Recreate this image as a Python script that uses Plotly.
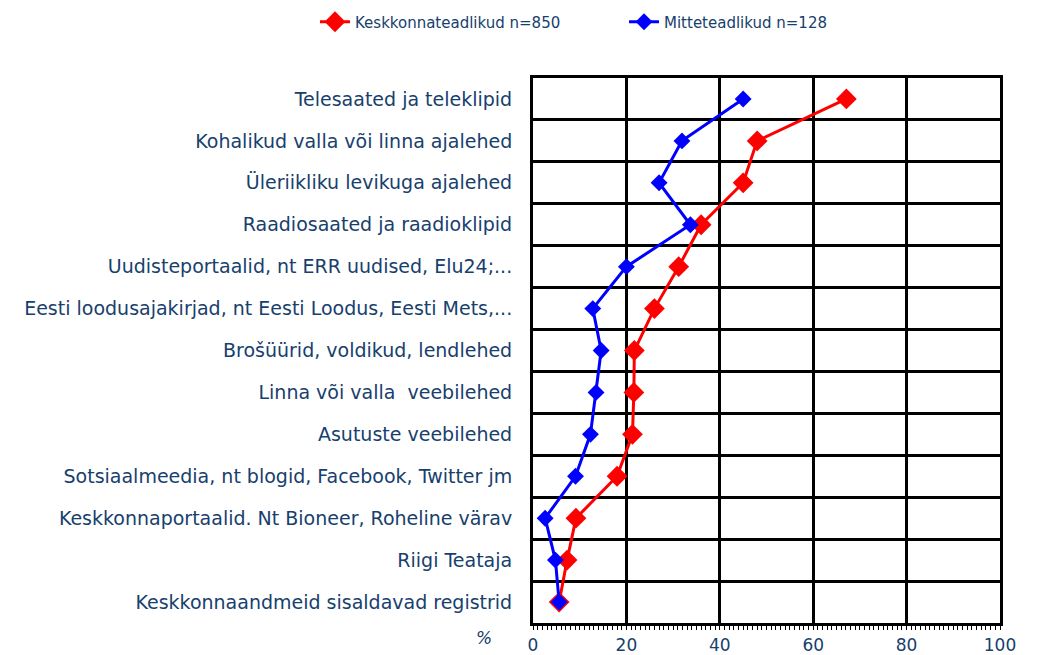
import plotly.graph_objects as go

categories = [
    "Telesaated ja teleklipid",
    "Kohalikud valla või linna ajalehed",
    "Üleriikliku levikuga ajalehed",
    "Raadiosaated ja raadioklipid",
    "Uudisteportaalid, nt ERR uudised, Elu24;...",
    "Eesti loodusajakirjad, nt Eesti Loodus, Eesti Mets,...",
    "Brošüürid, voldikud, lendlehed",
    "Linna või valla  veebilehed",
    "Asutuste veebilehed",
    "Sotsiaalmeedia, nt blogid, Facebook, Twitter jm",
    "Keskkonnaportaalid. Nt Bioneer, Roheline värav",
    "Riigi Teataja",
    "Keskkonnaandmeid sisaldavad registrid",
]
teadlikud = [67.1, 48.0, 45.0, 36.0, 31.2, 26.0, 21.7, 21.6, 21.3, 18.0, 9.2, 7.3, 5.6]
mitteteadlikud = [45.0, 31.9, 27.0, 33.7, 20.0, 12.8, 14.6, 13.5, 12.3, 9.1, 2.6, 4.8, 5.6]
x_ticks = [0, 20, 40, 60, 80, 100]

TXT = "#17406D"
FONT = "DejaVu Sans"

fig = go.Figure()
fig.add_trace(go.Scatter(
    x=teadlikud, y=categories, mode="lines+markers",
    name="Keskkonnateadlikud n=850", legend="legend",
    line=dict(color="#FF0000", width=3),
    marker=dict(symbol="diamond", size=16, color="#FF0000"),
))
fig.add_trace(go.Scatter(
    x=mitteteadlikud, y=categories, mode="lines+markers",
    name="Mitteteadlikud n=128", legend="legend2",
    line=dict(color="#0000FF", width=3),
    marker=dict(symbol="diamond", size=13, color="#0000FF"),
))

leg_common = dict(
    orientation="h", xref="container", yref="container",
    xanchor="left", yanchor="middle",
    font=dict(size=15, color=TXT, family=FONT),
    bgcolor="rgba(0,0,0,0)",
)

fig.update_layout(
    width=1050, height=655,
    margin=dict(l=533, r=50, t=78, b=32, autoexpand=False),
    paper_bgcolor="white", plot_bgcolor="white",
    font=dict(family=FONT, color=TXT, size=16),
    showlegend=True,
    legend=dict(x=0.300, y=1 - 22 / 655, **leg_common),
    legend2=dict(x=0.5943, y=1 - 22 / 655, **leg_common),
    xaxis=dict(
        range=[0, 100], tickvals=x_ticks, ticktext=[str(v) for v in x_ticks],
        showgrid=True, gridcolor="black", gridwidth=2.5,
        showline=True, linecolor="black", linewidth=3, mirror=True,
        ticks="", tickfont=dict(size=17, color=TXT), ticklabelstandoff=5,
        minor=dict(dtick=1, ticks="outside", ticklen=4, tickcolor="black", tickwidth=1, showgrid=False),
        zeroline=False, fixedrange=True, automargin=False,
    ),
    yaxis=dict(
        type="category", categoryorder="array", categoryarray=categories[::-1],
        autorange=False, range=[-0.5, len(categories) - 0.5],
        tickson="boundaries", showgrid=True, gridcolor="black", gridwidth=2.5,
        showline=True, linecolor="black", linewidth=3, mirror=True,
        ticks="", ticklabelstandoff=14, tickfont=dict(size=19, color=TXT),
        zeroline=False, fixedrange=True, automargin=False,
    ),
    annotations=[dict(
        text="<i>%</i>", xref="paper", yref="paper", x=-0.105, y=-0.028,
        xanchor="center", yanchor="middle", showarrow=False,
        font=dict(size=17, color=TXT),
    )],
)

fig.write_html(
    "out.html",
    config={"displayModeBar": False},
    post_script="document.body.style.margin='0';document.body.style.overflow='hidden';",
)
